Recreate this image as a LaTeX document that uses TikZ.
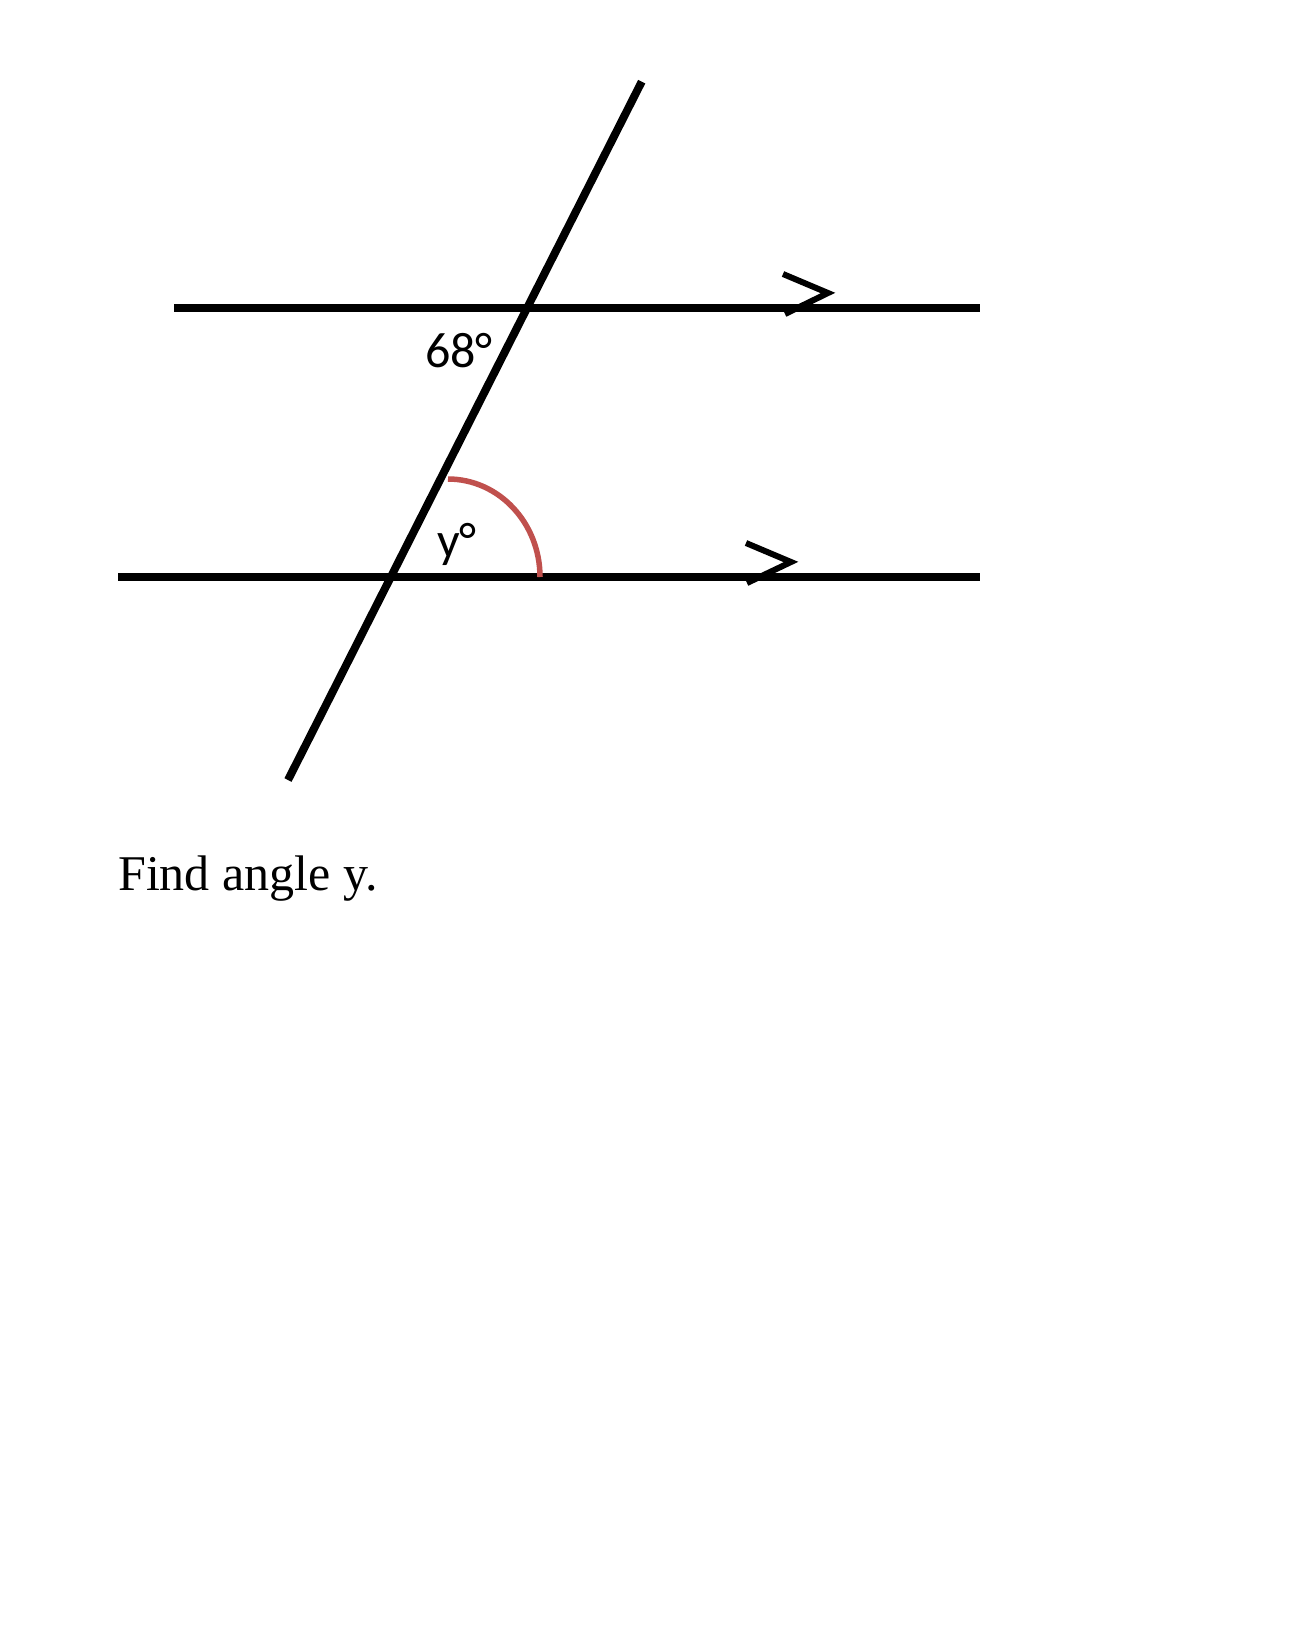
\documentclass[tikz,border=0pt]{standalone}
\usepackage{fontspec}
\setmainfont{Liberation Serif}
\newfontfamily\labelfont{Carlito}
\definecolor{arcred}{HTML}{C0504D}
\begin{document}
\begin{tikzpicture}[x=1pt,y=-1pt,
  thickline/.style={line width=8pt,black},
  chevron/.style={line width=6pt,black,line join=miter},
  anglearc/.style={line width=5.5pt,arcred},
  anglelabel/.style={font=\labelfont\fontsize{50}{60}\selectfont,inner sep=0pt,anchor=base west},
  caption/.style={font=\fontsize{50}{60}\selectfont,inner sep=0pt,anchor=base west}]
\useasboundingbox[fill=white] (0,0) rectangle (1298,1652);
% parallel lines
\coordinate (u1) at (174,308);
\coordinate (u2) at (980,308);
\coordinate (l1) at (118,577);
\coordinate (l2) at (980,577);
\draw[thickline] (u1) -- (u2);
\draw[thickline] (l1) -- (l2);
% transversal
\coordinate (t1) at (641.7,81.7);
\coordinate (t2) at (288,780);
\draw[thickline] (t1) -- (t2);
% parallel markers
\coordinate (ca1) at (783,274);
\coordinate (ca2) at (828,293);
\coordinate (ca3) at (785,314);
\draw[chevron] (ca1) -- (ca2) -- (ca3);
\coordinate (cb1) at (746,543);
\coordinate (cb2) at (791,562);
\coordinate (cb3) at (747,583);
\draw[chevron] (cb1) -- (cb2) -- (cb3);
% angle arc
\coordinate (a1) at (448,479);
\coordinate (a2) at (540,577);
\draw[anglearc] (a1) .. controls (498.8,479) and (540,522.9) .. (a2);
% labels
\node[anglelabel] (lab68) at (425,367) {68°};
\node[anglelabel] (laby) at (437,557) {y°};
\node[caption] (cap) at (118,890) {Find angle y.};
\end{tikzpicture}
\end{document}
